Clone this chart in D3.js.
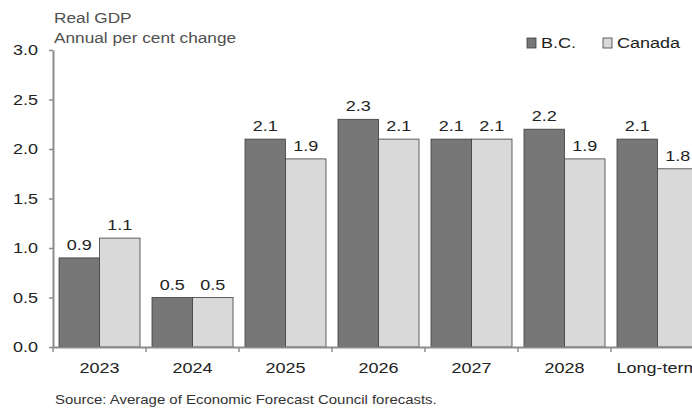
<!DOCTYPE html>
<html>
<head>
<meta charset="utf-8">
<script src="https://cdn.jsdelivr.net/npm/d3@7"></script>
<style>
  body { margin: 0; background: #fff; }
  svg { display: block; font-family: "Liberation Sans", Arial, sans-serif; }
</style>
</head>
<body>
<div id="chart"></div>
<script>
const categories = ["2023", "2024", "2025", "2026", "2027", "2028", "Long-term"];
const bcValues = [0.9, 0.5, 2.1, 2.3, 2.1, 2.2, 2.1];
const canadaValues = [1.1, 0.5, 1.9, 2.1, 2.1, 1.9, 1.8];
const seriesNames = ["B.C.", "Canada"];
const yTicks = [0, 0.5, 1, 1.5, 2, 2.5, 3];

const width = 692, height = 408;
const margin = { top: 50, left: 53, bottom: 61 };
const sx = 1.2; // the source picture is a bit wider than tall, text looks stretched

const svg = d3.select("#chart").append("svg")
    .attr("width", width)
    .attr("height", height);

const x = d3.scaleBand()
    .domain(categories)
    .range([margin.left, margin.left + 93 * categories.length])
    .paddingInner(0)
    .paddingOuter(0);

const y = d3.scaleLinear()
    .domain([0, 3])
    .range([height - margin.bottom, margin.top]);

const xSub = d3.scaleBand()
    .domain(seriesNames)
    .range([6, x.bandwidth() - 6])
    .padding(0);

const colors = { "B.C.": "#777777", "Canada": "#d9d9d9" };

// helper for stretched text
function label(g, tx, ty, str, size, fill, stretch) {
    return g.append("text")
        .attr("transform", `translate(${tx},${ty}) scale(${stretch},1)`)
        .attr("font-size", size)
        .attr("fill", fill)
        .text(str);
}

const data = categories.map((c, i) => ({ cat: c, vals: [
    { key: "B.C.", v: bcValues[i] },
    { key: "Canada", v: canadaValues[i] }
]}));

const groups = svg.selectAll("g.grp")
    .data(data)
    .enter().append("g")
    .attr("class", "grp")
    .attr("transform", d => `translate(${x(d.cat)},0)`);

groups.selectAll("rect")
    .data(d => d.vals)
    .enter().append("rect")
    .attr("x", d => xSub(d.key))
    .attr("y", d => y(d.v))
    .attr("width", xSub.bandwidth())
    .attr("height", d => y(0) - y(d.v))
    .attr("fill", d => colors[d.key])
    .attr("stroke", "#3c3c3c")
    .attr("stroke-width", 0.8);

groups.selectAll("text.val")
    .data(d => d.vals)
    .enter().append("text")
    .attr("class", "val")
    .attr("transform", d => `translate(${xSub(d.key) + xSub.bandwidth() / 2},${y(d.v) - 8}) scale(${sx},1)`)
    .attr("text-anchor", "middle")
    .attr("font-size", 15)
    .attr("fill", "#222")
    .text(d => d.v.toFixed(1));

// y axis
const yAxis = d3.axisLeft(y)
    .tickValues(yTicks)
    .tickFormat(d3.format(".1f"))
    .tickSize(4)
    .tickSizeOuter(0);

const yg = svg.append("g")
    .attr("transform", `translate(${margin.left},0)`)
    .call(yAxis);
yg.select(".domain").attr("stroke", "#8c8c8c").attr("stroke-width", 2);
yg.selectAll(".tick line").attr("stroke", "#8c8c8c").attr("stroke-width", 1.5);
yg.selectAll(".tick text")
    .attr("x", -15 / sx)
    .attr("transform", `scale(${sx},1)`)
    .attr("font-size", 15).attr("fill", "#222")
    .attr("font-family", "Liberation Sans, Arial, sans-serif");

// x axis
const xAxis = d3.axisBottom(x)
    .tickSize(0)
    .tickPadding(15);

const xg = svg.append("g")
    .attr("transform", `translate(0,${y(0)})`)
    .call(xAxis);
xg.select(".domain").attr("stroke", "#8c8c8c").attr("stroke-width", 2);
xg.selectAll(".tick text")
    .attr("transform", `scale(${sx},1)`)
    .attr("font-size", 15).attr("fill", "#222")
    .attr("font-family", "Liberation Sans, Arial, sans-serif");

// category separator ticks
svg.append("g").selectAll("line")
    .data(categories)
    .enter().append("line")
    .attr("x1", d => x(d))
    .attr("x2", d => x(d))
    .attr("y1", y(0))
    .attr("y2", y(0) + 5)
    .attr("stroke", "#8c8c8c")
    .attr("stroke-width", 1.5);

// titles
label(svg, 54, 23, "Real GDP", 15, "#505050", 1.15);
label(svg, 54, 43, "Annual per cent change", 15, "#505050", 1.15);

// legend
const legend = svg.append("g")
    .attr("transform", "translate(527,38)");
const li = legend.selectAll("g")
    .data(seriesNames)
    .enter().append("g")
    .attr("transform", (d, i) => `translate(${i * 76},0)`);
li.append("rect")
    .attr("x", 0).attr("y", 0)
    .attr("width", 9).attr("height", 10)
    .attr("fill", d => colors[d])
    .attr("stroke", "#3c3c3c")
    .attr("stroke-width", 0.8);
li.append("text")
    .attr("transform", `translate(14,10) scale(${sx},1)`)
    .attr("font-size", 15).attr("fill", "#222")
    .text(d => d);

// source
label(svg, 55, 404, "Source: Average of Economic Forecast Council forecasts.", 13, "#333", 1.15);
</script>
</body>
</html>
